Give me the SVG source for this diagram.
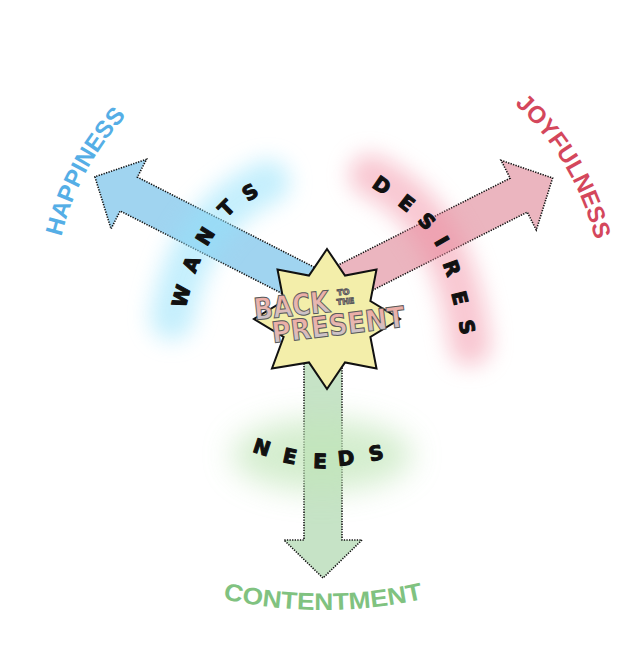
<svg xmlns="http://www.w3.org/2000/svg" width="642" height="646" viewBox="0 0 642 646">
<style>
.arrow{stroke:#111;stroke-width:1.6;stroke-dasharray:1.3 1.3;stroke-linejoin:miter}
.word{font-family:"DejaVu Sans",sans-serif;font-weight:bold;font-size:20px;fill:#111;stroke:#111;stroke-width:1.1;stroke-linejoin:round}
.outer{font-family:"Liberation Sans",Arial,sans-serif;font-weight:bold;font-size:24px}
.title{font-family:"DejaVu Sans",sans-serif;font-weight:bold;fill:url(#tg);stroke:#5a5a5a;stroke-width:1}
</style>
<defs>
<filter id="blur" x="-60%" y="-60%" width="220%" height="220%"><feGaussianBlur stdDeviation="11"/></filter>
<filter id="blur2" x="-60%" y="-60%" width="220%" height="220%"><feGaussianBlur stdDeviation="15"/></filter>
<linearGradient id="tg" x1="0" y1="0" x2="0" y2="1">
<stop offset="0" stop-color="#f0a8a0"/>
<stop offset="0.55" stop-color="#e6b8b2"/>
<stop offset="1" stop-color="#a9cfe2"/>
</linearGradient>
<path id="arcH" d="M55,276.4 A271,271 0 0 1 169.6,78"/>
<path id="arcJ" d="M466.5,68.6 A273,273 0 0 1 603,305"/>
<path id="arcC" d="M130.7,567.4 A455,455 0 0 0 515.3,567.4"/>
</defs>
<rect width="642" height="646" fill="#ffffff"/>

<g id="connectors">
<g id="arrow-happiness" transform="translate(323,293) rotate(207)">
<polygon class="arrow" fill="#a0d4f0" points="0,-19 218,-19 218,-39 256,0 218,39 218,19 0,19"/>
</g>
<g id="arrow-joyfulness" transform="translate(325,293) rotate(-26.8)">
<polygon class="arrow" fill="#ebb5bf" points="0,-19 217,-19 217,-39 255,0 217,39 217,19 0,19"/>
</g>
<g id="arrow-contentment" transform="translate(323,300) rotate(90)">
<polygon class="arrow" fill="#c6e3c6" points="0,-19 240,-19 240,-39 278,0 240,39 240,19 0,19"/>
</g>
</g>

<g id="glows">
<path d="M172,318 Q190,215 268,182" fill="none" stroke="#95e2fb" stroke-width="44" stroke-linecap="round" opacity="0.55" filter="url(#blur)"/>
<path d="M370,175 Q455,215 470,345" fill="none" stroke="#f290a4" stroke-width="42" stroke-linecap="round" opacity="0.5" filter="url(#blur)"/>
<ellipse cx="322" cy="455" rx="90" ry="36" fill="#c2e6ba" opacity="0.7" filter="url(#blur2)"/>
</g>

<g id="wants">
<text class="word" x="185.2 194.9 206.8 226.4 247.8" y="308.5 273.9 247 218 202" rotate="-75 -68 -58 -45 -32">WANTS</text>
</g>
<g id="desires">
<text class="word" x="371 397.1 416.8 433.8 442.5 451.3 458.4" y="186.4 204.5 220.9 241.5 263.3 293.1 321.5" rotate="34 38 46 60 70 76 78">DESIRES</text>
</g>
<g id="needs">
<text class="word" x="251.8 281.8 312.9 338.5 370.5" y="451.4 461.7 468.1 466.1 461.6" rotate="18 12 2 -6 -12">NEEDS</text>
</g>

<g id="center">
<polygon fill="#f3eeaa" stroke="#111" stroke-width="2" stroke-linejoin="miter" points="327,249 345,275.6 376.5,269.5 370.4,301 400,319 370.4,337 376.5,368.5 345,362.4 327,389 309,362.4 272,368.5 283.6,337 254,319 283.6,301 277.5,269.5 309,275.6"/>
<text class="title" font-size="30" transform="translate(255,320) rotate(-6)" textLength="76" lengthAdjust="spacingAndGlyphs">BACK</text>
<text class="title" font-size="8" stroke-width="0.5" transform="translate(337.5,295.5) rotate(-6)">TO</text>
<text class="title" font-size="8" stroke-width="0.5" transform="translate(337,305) rotate(-6)">THE</text>
<text class="title" font-size="29" transform="translate(273,343) rotate(-7)" textLength="134" lengthAdjust="spacingAndGlyphs">PRESENT</text>
</g>

<g id="happiness">
<text class="outer" fill="#55aee6" text-anchor="middle"><textPath href="#arcH" startOffset="109.5">HAPPINESS</textPath></text>
</g>
<g id="joyfulness">
<text class="outer" fill="#d4475c" text-anchor="middle"><textPath href="#arcJ" startOffset="140">JOYFULNESS</textPath></text>
</g>
<g id="contentment">
<text class="outer" fill="#80c280" font-size="26" text-anchor="middle"><textPath href="#arcC" startOffset="198.5" textLength="202" lengthAdjust="spacingAndGlyphs">CONTENTMENT</textPath></text>
</g>
</svg>
